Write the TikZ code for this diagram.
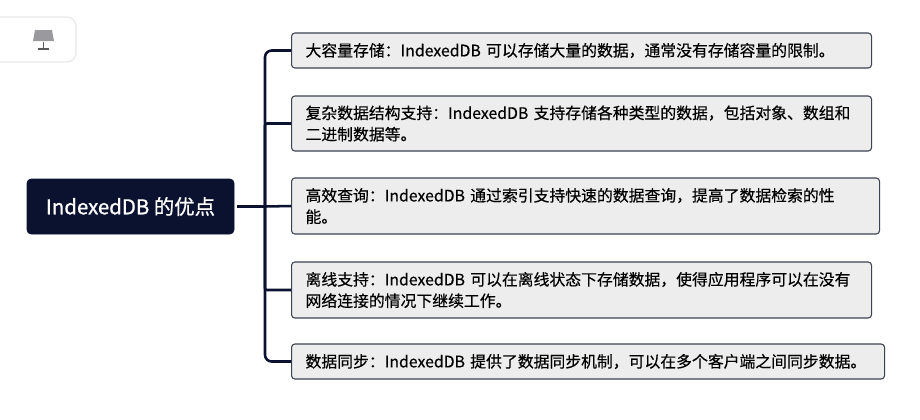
\documentclass[tikz,border=0pt]{standalone}
\usepackage{fontspec}
\setmainfont{Noto Sans CJK SC}[FakeBold=0.35]
\newfontfamily\rootfont{Noto Sans CJK SC}[FakeBold=0.9]
\definecolor{navy}{HTML}{0A1230}
\definecolor{boxfill}{HTML}{EDEDEE}
\definecolor{boxline}{HTML}{3C4250}
\definecolor{icongray}{HTML}{9A9A9E}
\def\pxu{0.75pt}
\tikzset{
  rootbox/.style={fill=navy,draw=navy,rounded corners=3pt,text=white,font=\rootfont\fontsize{15.3}{18}\selectfont,
    minimum width=207*\pxu,minimum height=55*\pxu,inner sep=0pt},
  itembox/.style={fill=boxfill,draw=boxline,line width=0.8pt,rounded corners=2.5pt,anchor=west,align=left,
    font=\fontsize{11.88}{16}\selectfont,inner xsep=14*\pxu,inner ysep=0pt,text width=#1*\pxu},
  branch/.style={draw=navy,line width=1.9pt,rounded corners=5pt},
  midbranch/.style={branch,rounded corners=1.5pt},
}
\begin{document}
\begin{tikzpicture}[x=0.75pt,y=-0.75pt]

    % Fix the page to the size of the reference
    \useasboundingbox (0,0) rectangle (920,419);

    % Card in the top left corner, cut off by the page edge
    \draw[draw=black!9,fill=white,line width=0.9pt,rounded corners=7pt] (0,17) -- (76,17) -- (76,62) -- (0,62);

    % Lectern icon on the card
    \fill[icongray] (35,30) -- (52,30) -- (54,41) -- (33,41) -- cycle;
    \fill[black!65] (42.8,42) rectangle (44.4,49);
    \fill[black!65] (38,48.4) rectangle (49,50);

    % Root node
    \node[rootbox] (root) at (130.5,206.5) {IndexedDB 的优点};

    % The five items
    \node[itembox=552,minimum height=35*\pxu] (stor) at (291,50.5)
      {大容量存储：IndexedDB 可以存储大量的数据，通常没有存储容量的限制。};
    \node[itembox=552,minimum height=55*\pxu] (cplx) at (291,123.5)
      {复杂数据结构支持：IndexedDB 支持存储各种类型的数据，包括对象、数组和\\二进制数据等。};
    \node[itembox=560,minimum height=56*\pxu] (query) at (291,206)
      {高效查询：IndexedDB 通过索引支持快速的数据查询，提高了数据检索的性\\能。};
    \node[itembox=552,minimum height=56*\pxu] (offln) at (291,290)
      {离线支持：IndexedDB 可以在离线状态下存储数据，使得应用程序可以在没有\\网络连接的情况下继续工作。};
    \node[itembox=565,minimum height=35*\pxu] (syncd) at (291,361.5)
      {数据同步：IndexedDB 提供了数据同步机制，可以在多个客户端之间同步数据。};

    % Point where the root line meets the spine
    \coordinate (hub) at (265,206.5);

    % Connectors
    \draw[branch] ([xshift=3*\pxu]root.east) -- (hub);
    \draw[branch] (hub) |- (stor.west);
    \draw[branch] (hub) |- (syncd.west);
    \draw[branch] (hub) -- (query.west);
    \draw[midbranch] (hub) |- (cplx.west);
    \draw[midbranch] (hub) |- (offln.west);

\end{tikzpicture}
\end{document}
